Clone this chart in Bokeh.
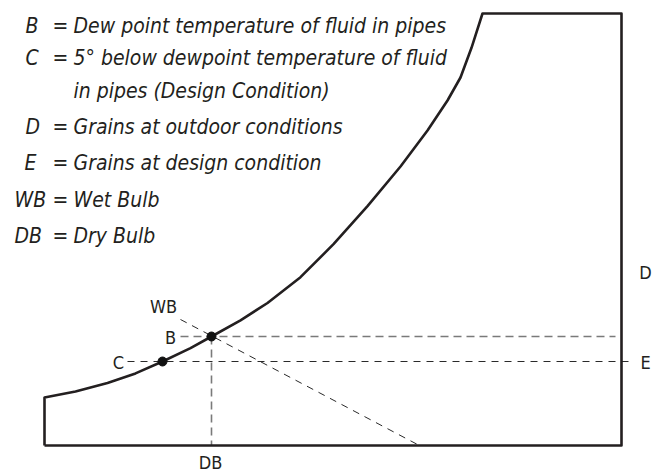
from bokeh.plotting import figure
from bokeh.models import Range1d
from bokeh.core.properties import value
from bokeh.embed import file_html
from bokeh.resources import INLINE

# ---- data (page-pixel-like units, y grows downward) ----
# saturation curve
curve_x = [44, 75, 107, 135, 162, 190, 211, 240, 267, 300, 333, 367, 400, 427, 447, 460, 471, 482]
curve_y = [397, 391, 382.4, 372.9, 361, 347.6, 336, 319.8, 302.5, 276.7, 243.7, 205.6, 166, 130, 100, 77, 47.3, 13]
right_x = 621
bottom_y = 445
top_y = 13

# state points
pt_names = ["B", "C"]
pt_x = [211, 162]
pt_y = [336, 361]

# wet bulb line
wb_x = [180, 417]
wb_y = [319, 444]

# point labels
lab_text = ["WB", "B", "C", "DB", "D", "E"]
lab_x = [163, 170, 118, 210, 645, 645]
lab_y = [306, 337, 362, 462, 272, 362]

# legend
key_text = ["B", "C", "", "D", "E", "WB", "DB"]
key_x = [25, 25, 25, 25, 24, 14, 14]
eq_text = ["=", "=", "", "=", "=", "=", "="]
desc_text = ["Dew point temperature of fluid in pipes",
             "5\u00b0 below dewpoint temperature of fluid",
             "in pipes (Design Condition)",
             "Grains at outdoor conditions",
             "Grains at design condition",
             "Wet Bulb",
             "Dry Bulb"]
leg_y = [25, 57, 90, 126, 162, 199, 235]

FONT = value("DejaVu Sans Condensed")

W, H = 657, 473
p = figure(width=W, height=H, output_backend="svg", toolbar_location=None,
           x_range=Range1d(0, W), y_range=Range1d(H, 0),
           min_border=0, outline_line_color=None)
p.axis.visible = False
p.grid.visible = False
p.background_fill_color = "white"

# dashed guides
p.line([pt_x[0] - 31, right_x - 6], [pt_y[0], pt_y[0]], line_color="#7a7a7a", line_width=1.6, line_dash="8 5")
p.line([pt_x[1] - 35, right_x + 7], [pt_y[1], pt_y[1]], line_color="#2a2a2a", line_width=1.0, line_dash="7 6")
p.line([pt_x[0], pt_x[0]], [pt_y[0], bottom_y], line_color="#7a7a7a", line_width=1.6, line_dash="8 5")
p.line(wb_x, wb_y, line_color="#2a2a2a", line_width=1.0, line_dash="7 6")

# outline
ox = [curve_x[0]] + curve_x + [right_x, right_x, curve_x[0]]
oy = [bottom_y] + curve_y + [top_y, bottom_y, bottom_y]
p.line(ox, oy, line_color="#231f20", line_width=2.6, line_join="round")

# points
p.scatter(pt_x, pt_y, size=9, fill_color="#111111", line_color="#111111")

# labels
p.text(lab_x, lab_y, text=lab_text, text_font=FONT, text_font_size="18px",
       text_align="center", text_baseline="middle", text_color="#231f20")

# legend
for xs, txt in ((key_x, key_text), ([52] * len(leg_y), eq_text), ([73] * len(leg_y), desc_text)):
    p.text(xs, leg_y, text=txt, text_font=FONT, text_font_size="21px",
           text_font_style="italic", text_align="left", text_baseline="middle", text_color="#231f20")

open("out.html", "w").write(file_html(p, INLINE))
